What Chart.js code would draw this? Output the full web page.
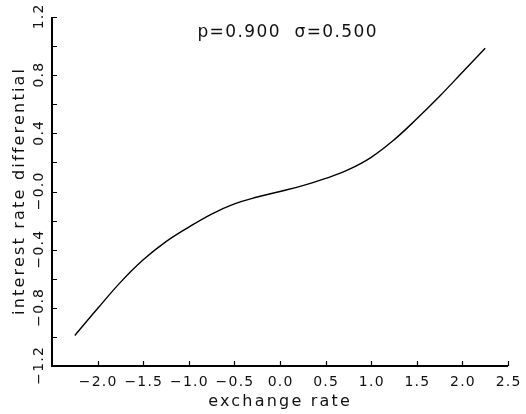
<!DOCTYPE html>
<html>
<head>
<meta charset="utf-8">
<style>
  html, body { margin: 0; padding: 0; background: #fff; }
  #wrap { width: 526px; height: 414px; }
</style>
<script src="https://cdn.jsdelivr.net/npm/chart.js@4.4.0/dist/chart.umd.min.js"></script>
</head>
<body>
<div id="wrap"><canvas id="chart" width="526" height="414"></canvas></div>
<script>
// curve (exchange rate -> interest rate differential)
const exchangeRate = [-2.25, -2.0, -1.75, -1.5, -1.25, -1.0, -0.75, -0.5, -0.25, 0.0,
  0.25, 0.5, 0.75, 1.0, 1.25, 1.5, 1.75, 2.0, 2.25];
const rateDiff = [-0.99, -0.805, -0.625, -0.47, -0.345, -0.245, -0.155, -0.085, -0.038, 0.0,
  0.04, 0.09, 0.15, 0.235, 0.355, 0.50, 0.655, 0.82, 0.985];

const xTicks = [-2.0, -1.5, -1.0, -0.5, 0.0, 0.5, 1.0, 1.5, 2.0, 2.5];
const xTickLabels = ["−2.0", "−1.5", "−1.0", "−0.5", "0.0", "0.5", "1.0", "1.5", "2.0", "2.5"];
const yTicks = [-1.2, -1.0, -0.8, -0.6, -0.4, -0.2, 0.0, 0.2, 0.4, 0.6, 0.8, 1.0, 1.2];
const yLabelTicks = [-1.2, -0.8, -0.4, 0.0, 0.4, 0.8, 1.2];
const yTickLabels = ["−1.2", "−0.8", "−0.4", "−0.0", "0.4", "0.8", "1.2"];

const titleText = "p=0.900  σ=0.500";
const FONT = '"DejaVu Sans", sans-serif';

// draws text centred on (cx, cy), letter spacing included
function spacedText(ctx, text, cx, cy, spacing) {
  ctx.letterSpacing = spacing + "px";
  ctx.fillText(text, cx + spacing / 2, cy);
  ctx.letterSpacing = "0px";
}

// axes, inward ticks and all text drawn from the chart's own scales
const axesPlugin = {
  id: "axesPlugin",
  afterDraw(chart) {
    const { ctx, chartArea: a, scales: { x, y } } = chart;
    ctx.save();
    ctx.strokeStyle = "#000";
    ctx.lineWidth = 2;
    ctx.beginPath();
    ctx.moveTo(a.left, a.top);
    ctx.lineTo(a.left, a.bottom);
    ctx.lineTo(a.right, a.bottom);
    ctx.stroke();

    ctx.lineWidth = 1.2;
    ctx.beginPath();
    for (const v of xTicks) {
      const px = Math.round(x.getPixelForValue(v)) + 0.5;
      ctx.moveTo(px, a.bottom);
      ctx.lineTo(px, a.bottom - 5);
    }
    for (const v of yTicks) {
      const py = Math.round(y.getPixelForValue(v)) + 0.5;
      ctx.moveTo(a.left, py);
      ctx.lineTo(a.left + 5, py);
    }
    ctx.stroke();

    ctx.fillStyle = "#111";
    ctx.textAlign = "center";
    ctx.textBaseline = "middle";
    ctx.font = "14px " + FONT;
    xTicks.forEach((v, i) => {
      spacedText(ctx, xTickLabels[i], x.getPixelForValue(v), a.bottom + 16, 1.2);
    });
    yLabelTicks.forEach((v, i) => {
      ctx.save();
      ctx.translate(a.left - 13, y.getPixelForValue(v));
      ctx.rotate(-Math.PI / 2);
      spacedText(ctx, yTickLabels[i], 0, 0, 1.2);
      ctx.restore();
    });

    ctx.font = "16px " + FONT;
    spacedText(ctx, "exchange rate", (a.left + a.right) / 2 - 1, a.bottom + 36, 2.2);
    ctx.save();
    ctx.translate(20, 192);
    ctx.rotate(-Math.PI / 2);
    spacedText(ctx, "interest rate differential", 0, 0, 2.2);
    ctx.restore();

    ctx.font = "17px " + FONT;
    spacedText(ctx, titleText, 287, 33, 1.4);
    ctx.restore();
  }
};

new Chart(document.getElementById("chart"), {
  type: "line",
  data: {
    datasets: [{
      data: exchangeRate.map((v, i) => ({ x: v, y: rateDiff[i] })),
      borderColor: "#000",
      borderWidth: 1.4,
      pointRadius: 0,
      tension: 0.4,
      fill: false,
    }],
  },
  options: {
    responsive: false,
    animation: false,
    layout: { padding: { left: 52, top: 17, right: 18, bottom: 48 } },
    plugins: { legend: { display: false }, tooltip: { enabled: false } },
    scales: {
      x: { type: "linear", min: -2.5, max: 2.5, display: false },
      y: { type: "linear", min: -1.2, max: 1.2, display: false },
    },
  },
  plugins: [axesPlugin],
});
</script>
</body>
</html>
